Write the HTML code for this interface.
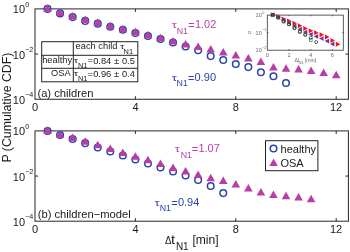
<!DOCTYPE html><html><head><meta charset="utf-8"><style>html,body{margin:0;padding:0;background:#fff;width:350px;height:252px;overflow:hidden}svg{display:block;will-change:transform}text{font-family:"Liberation Sans",sans-serif}</style></head><body>
<svg width="350" height="252" viewBox="0 0 350 252">
<rect x="0" y="0" width="350" height="252" fill="#fff"/>
<rect x="35.0" y="8.9" width="313.40" height="90.36" fill="none" stroke="#262626" stroke-width="1"/>
<line x1="135.40" y1="99.26" x2="135.40" y2="96.26" stroke="#262626" stroke-width="1"/>
<line x1="135.40" y1="8.9" x2="135.40" y2="11.9" stroke="#262626" stroke-width="1"/>
<line x1="235.80" y1="99.26" x2="235.80" y2="96.26" stroke="#262626" stroke-width="1"/>
<line x1="235.80" y1="8.9" x2="235.80" y2="11.9" stroke="#262626" stroke-width="1"/>
<line x1="336.20" y1="99.26" x2="336.20" y2="96.26" stroke="#262626" stroke-width="1"/>
<line x1="336.20" y1="8.9" x2="336.20" y2="11.9" stroke="#262626" stroke-width="1"/>
<line x1="35.0" y1="54.08" x2="38.0" y2="54.08" stroke="#262626" stroke-width="1"/>
<line x1="348.4" y1="54.08" x2="345.4" y2="54.08" stroke="#262626" stroke-width="1"/>
<rect x="35.0" y="130.9" width="313.40" height="90.30" fill="none" stroke="#262626" stroke-width="1"/>
<line x1="135.40" y1="221.2" x2="135.40" y2="218.2" stroke="#262626" stroke-width="1"/>
<line x1="135.40" y1="130.9" x2="135.40" y2="133.9" stroke="#262626" stroke-width="1"/>
<line x1="235.80" y1="221.2" x2="235.80" y2="218.2" stroke="#262626" stroke-width="1"/>
<line x1="235.80" y1="130.9" x2="235.80" y2="133.9" stroke="#262626" stroke-width="1"/>
<line x1="336.20" y1="221.2" x2="336.20" y2="218.2" stroke="#262626" stroke-width="1"/>
<line x1="336.20" y1="130.9" x2="336.20" y2="133.9" stroke="#262626" stroke-width="1"/>
<line x1="35.0" y1="176.05" x2="38.0" y2="176.05" stroke="#262626" stroke-width="1"/>
<line x1="348.4" y1="176.05" x2="345.4" y2="176.05" stroke="#262626" stroke-width="1"/>
<circle cx="47.55" cy="8.90" r="3.3" fill="none" stroke="#2a45aa" stroke-width="1.5"/>
<circle cx="60.10" cy="13.40" r="3.3" fill="none" stroke="#2a45aa" stroke-width="1.5"/>
<circle cx="72.65" cy="17.10" r="3.3" fill="none" stroke="#2a45aa" stroke-width="1.5"/>
<circle cx="85.20" cy="20.90" r="3.3" fill="none" stroke="#2a45aa" stroke-width="1.5"/>
<circle cx="97.75" cy="23.65" r="3.3" fill="none" stroke="#2a45aa" stroke-width="1.5"/>
<circle cx="110.30" cy="26.75" r="3.3" fill="none" stroke="#2a45aa" stroke-width="1.5"/>
<circle cx="122.85" cy="29.80" r="3.3" fill="none" stroke="#2a45aa" stroke-width="1.5"/>
<circle cx="135.40" cy="32.95" r="3.3" fill="none" stroke="#2a45aa" stroke-width="1.5"/>
<circle cx="147.95" cy="35.95" r="3.3" fill="none" stroke="#2a45aa" stroke-width="1.5"/>
<circle cx="160.50" cy="38.95" r="3.3" fill="none" stroke="#2a45aa" stroke-width="1.5"/>
<circle cx="173.05" cy="42.45" r="3.3" fill="none" stroke="#2a45aa" stroke-width="1.5"/>
<circle cx="185.60" cy="46.45" r="3.3" fill="none" stroke="#2a45aa" stroke-width="1.5"/>
<circle cx="198.15" cy="50.30" r="3.3" fill="none" stroke="#2a45aa" stroke-width="1.5"/>
<circle cx="210.70" cy="56.10" r="3.3" fill="none" stroke="#2a45aa" stroke-width="1.5"/>
<circle cx="223.25" cy="60.00" r="3.3" fill="none" stroke="#2a45aa" stroke-width="1.5"/>
<circle cx="235.80" cy="64.00" r="3.3" fill="none" stroke="#2a45aa" stroke-width="1.5"/>
<circle cx="248.35" cy="67.10" r="3.3" fill="none" stroke="#2a45aa" stroke-width="1.5"/>
<circle cx="260.90" cy="72.20" r="3.3" fill="none" stroke="#2a45aa" stroke-width="1.5"/>
<circle cx="273.45" cy="76.25" r="3.3" fill="none" stroke="#2a45aa" stroke-width="1.5"/>
<circle cx="286.00" cy="83.05" r="3.3" fill="none" stroke="#2a45aa" stroke-width="1.5"/>
<polygon points="47.55,4.20 43.25,11.70 51.85,11.70" fill="#b63ea4"/>
<polygon points="60.10,8.40 55.80,15.90 64.40,15.90" fill="#b63ea4"/>
<polygon points="72.65,12.00 68.35,19.50 76.95,19.50" fill="#b63ea4"/>
<polygon points="85.20,15.50 80.90,23.00 89.50,23.00" fill="#b63ea4"/>
<polygon points="97.75,18.50 93.45,26.00 102.05,26.00" fill="#b63ea4"/>
<polygon points="110.30,21.50 106.00,29.00 114.60,29.00" fill="#b63ea4"/>
<polygon points="122.85,24.80 118.55,32.30 127.15,32.30" fill="#b63ea4"/>
<polygon points="135.40,27.80 131.10,35.30 139.70,35.30" fill="#b63ea4"/>
<polygon points="147.95,30.80 143.65,38.30 152.25,38.30" fill="#b63ea4"/>
<polygon points="160.50,33.80 156.20,41.30 164.80,41.30" fill="#b63ea4"/>
<polygon points="173.05,37.00 168.75,44.50 177.35,44.50" fill="#b63ea4"/>
<polygon points="185.60,40.00 181.30,47.50 189.90,47.50" fill="#b63ea4"/>
<polygon points="198.15,42.50 193.85,50.00 202.45,50.00" fill="#b63ea4"/>
<polygon points="210.70,45.00 206.40,52.50 215.00,52.50" fill="#b63ea4"/>
<polygon points="223.25,48.00 218.95,55.50 227.55,55.50" fill="#b63ea4"/>
<polygon points="235.80,51.00 231.50,58.50 240.10,58.50" fill="#b63ea4"/>
<polygon points="248.35,54.00 244.05,61.50 252.65,61.50" fill="#b63ea4"/>
<polygon points="260.90,57.60 256.60,65.10 265.20,65.10" fill="#b63ea4"/>
<polygon points="273.45,63.00 269.15,70.50 277.75,70.50" fill="#b63ea4"/>
<polygon points="286.00,64.20 281.70,71.70 290.30,71.70" fill="#b63ea4"/>
<polygon points="298.55,65.00 294.25,72.50 302.85,72.50" fill="#b63ea4"/>
<polygon points="311.10,66.60 306.80,74.10 315.40,74.10" fill="#b63ea4"/>
<polygon points="323.65,68.50 319.35,76.00 327.95,76.00" fill="#b63ea4"/>
<polygon points="336.20,70.80 331.90,78.30 340.50,78.30" fill="#b63ea4"/>
<circle cx="47.55" cy="130.95" r="3.3" fill="none" stroke="#2a45aa" stroke-width="1.5"/>
<circle cx="60.10" cy="135.00" r="3.3" fill="none" stroke="#2a45aa" stroke-width="1.5"/>
<circle cx="72.65" cy="138.95" r="3.3" fill="none" stroke="#2a45aa" stroke-width="1.5"/>
<circle cx="85.20" cy="143.15" r="3.3" fill="none" stroke="#2a45aa" stroke-width="1.5"/>
<circle cx="97.75" cy="147.45" r="3.3" fill="none" stroke="#2a45aa" stroke-width="1.5"/>
<circle cx="110.30" cy="151.45" r="3.3" fill="none" stroke="#2a45aa" stroke-width="1.5"/>
<circle cx="122.85" cy="155.45" r="3.3" fill="none" stroke="#2a45aa" stroke-width="1.5"/>
<circle cx="135.40" cy="159.45" r="3.3" fill="none" stroke="#2a45aa" stroke-width="1.5"/>
<circle cx="147.95" cy="163.45" r="3.3" fill="none" stroke="#2a45aa" stroke-width="1.5"/>
<circle cx="160.50" cy="167.45" r="3.3" fill="none" stroke="#2a45aa" stroke-width="1.5"/>
<circle cx="173.05" cy="171.45" r="3.3" fill="none" stroke="#2a45aa" stroke-width="1.5"/>
<circle cx="185.60" cy="175.45" r="3.3" fill="none" stroke="#2a45aa" stroke-width="1.5"/>
<circle cx="198.15" cy="180.00" r="3.3" fill="none" stroke="#2a45aa" stroke-width="1.5"/>
<circle cx="210.70" cy="186.00" r="3.3" fill="none" stroke="#2a45aa" stroke-width="1.5"/>
<circle cx="223.25" cy="193.10" r="3.3" fill="none" stroke="#2a45aa" stroke-width="1.5"/>
<polygon points="47.55,126.20 43.25,133.70 51.85,133.70" fill="#b63ea4"/>
<polygon points="60.10,130.20 55.80,137.70 64.40,137.70" fill="#b63ea4"/>
<polygon points="72.65,133.50 68.35,141.00 76.95,141.00" fill="#b63ea4"/>
<polygon points="85.20,137.20 80.90,144.70 89.50,144.70" fill="#b63ea4"/>
<polygon points="97.75,140.80 93.45,148.30 102.05,148.30" fill="#b63ea4"/>
<polygon points="110.30,144.50 106.00,152.00 114.60,152.00" fill="#b63ea4"/>
<polygon points="122.85,148.50 118.55,156.00 127.15,156.00" fill="#b63ea4"/>
<polygon points="135.40,152.20 131.10,159.70 139.70,159.70" fill="#b63ea4"/>
<polygon points="147.95,155.80 143.65,163.30 152.25,163.30" fill="#b63ea4"/>
<polygon points="160.50,159.50 156.20,167.00 164.80,167.00" fill="#b63ea4"/>
<polygon points="173.05,163.50 168.75,171.00 177.35,171.00" fill="#b63ea4"/>
<polygon points="185.60,167.00 181.30,174.50 189.90,174.50" fill="#b63ea4"/>
<polygon points="198.15,170.50 193.85,178.00 202.45,178.00" fill="#b63ea4"/>
<polygon points="210.70,173.80 206.40,181.30 215.00,181.30" fill="#b63ea4"/>
<polygon points="223.25,176.60 218.95,184.10 227.55,184.10" fill="#b63ea4"/>
<polygon points="235.80,180.00 231.50,187.50 240.10,187.50" fill="#b63ea4"/>
<polygon points="248.35,184.00 244.05,191.50 252.65,191.50" fill="#b63ea4"/>
<polygon points="260.90,188.10 256.60,195.60 265.20,195.60" fill="#b63ea4"/>
<polygon points="273.45,190.50 269.15,198.00 277.75,198.00" fill="#b63ea4"/>
<polygon points="286.00,191.80 281.70,199.30 290.30,199.30" fill="#b63ea4"/>
<polygon points="298.55,193.00 294.25,200.50 302.85,200.50" fill="#b63ea4"/>
<polygon points="311.10,194.80 306.80,202.30 315.40,202.30" fill="#b63ea4"/>
<rect x="41.7" y="41.7" width="96.10" height="40.10" fill="#fff" stroke="#222" stroke-width="1"/>
<line x1="41.7" y1="55.3" x2="137.8" y2="55.3" stroke="#222" stroke-width="1"/>
<line x1="41.7" y1="68.3" x2="137.8" y2="68.3" stroke="#222" stroke-width="1"/>
<line x1="73.3" y1="41.7" x2="73.3" y2="81.8" stroke="#222" stroke-width="1"/>
<rect x="265.5" y="140.7" width="52.4" height="30" fill="#fff" stroke="#222" stroke-width="1"/>
<circle cx="273.50" cy="148.50" r="3.3" fill="none" stroke="#2a45aa" stroke-width="1.5"/>
<polygon points="273.60,158.40 269.30,165.90 277.90,165.90" fill="#b63ea4"/>
<rect x="267.3" y="15.1" width="76.00" height="35.10" fill="#fff" stroke="#333" stroke-width="0.8"/>
<line x1="289.01" y1="50.2" x2="289.01" y2="49.0" stroke="#333" stroke-width="0.7"/>
<line x1="289.01" y1="15.1" x2="289.01" y2="16.3" stroke="#333" stroke-width="0.7"/>
<line x1="310.73" y1="50.2" x2="310.73" y2="49.0" stroke="#333" stroke-width="0.7"/>
<line x1="310.73" y1="15.1" x2="310.73" y2="16.3" stroke="#333" stroke-width="0.7"/>
<line x1="332.44" y1="50.2" x2="332.44" y2="49.0" stroke="#333" stroke-width="0.7"/>
<line x1="332.44" y1="15.1" x2="332.44" y2="16.3" stroke="#333" stroke-width="0.7"/>
<line x1="267.3" y1="32.65" x2="268.5" y2="32.65" stroke="#333" stroke-width="0.7"/>
<line x1="343.3" y1="32.65" x2="342.1" y2="32.65" stroke="#333" stroke-width="0.7"/>
<polygon points="275.23,14.80 270.73,12.30 270.73,17.30" fill="#f5141e"/>
<polygon points="280.66,16.60 276.16,14.10 276.16,19.10" fill="#f5141e"/>
<polygon points="286.09,18.90 281.59,16.40 281.59,21.40" fill="#f5141e"/>
<polygon points="291.51,21.00 287.01,18.50 287.01,23.50" fill="#f5141e"/>
<polygon points="296.94,23.20 292.44,20.70 292.44,25.70" fill="#f5141e"/>
<polygon points="302.37,25.80 297.87,23.30 297.87,28.30" fill="#f5141e"/>
<polygon points="307.80,28.40 303.30,25.90 303.30,30.90" fill="#f5141e"/>
<polygon points="313.23,30.70 308.73,28.20 308.73,33.20" fill="#f5141e"/>
<polygon points="318.66,32.70 314.16,30.20 314.16,35.20" fill="#f5141e"/>
<polygon points="324.09,34.80 319.59,32.30 319.59,37.30" fill="#f5141e"/>
<polygon points="329.51,37.10 325.01,34.60 325.01,39.60" fill="#f5141e"/>
<polygon points="334.94,40.60 330.44,38.10 330.44,43.10" fill="#f5141e"/>
<polygon points="340.37,44.30 335.87,41.80 335.87,46.80" fill="#f5141e"/>
<polygon points="270.33,14.80 274.73,12.40 274.73,17.20" fill="#7b2f9e"/>
<polygon points="275.76,17.30 280.16,14.90 280.16,19.70" fill="#7b2f9e"/>
<polygon points="281.19,20.10 285.59,17.70 285.59,22.50" fill="#7b2f9e"/>
<polygon points="286.61,23.00 291.01,20.60 291.01,25.40" fill="#7b2f9e"/>
<polygon points="292.04,26.00 296.44,23.60 296.44,28.40" fill="#7b2f9e"/>
<polygon points="297.47,29.20 301.87,26.80 301.87,31.60" fill="#7b2f9e"/>
<polygon points="302.90,32.10 307.30,29.70 307.30,34.50" fill="#7b2f9e"/>
<polygon points="308.33,34.30 312.73,31.90 312.73,36.70" fill="#7b2f9e"/>
<polygon points="313.76,36.40 318.16,34.00 318.16,38.80" fill="#7b2f9e"/>
<polygon points="319.19,38.60 323.59,36.20 323.59,41.00" fill="#7b2f9e"/>
<polygon points="324.61,41.10 329.01,38.70 329.01,43.50" fill="#7b2f9e"/>
<polygon points="330.04,44.00 334.44,41.60 334.44,46.40" fill="#7b2f9e"/>
<rect x="271.33" y="13.40" width="2.8" height="2.8" fill="none" stroke="#1f8a45" stroke-width="0.7"/>
<rect x="276.76" y="16.00" width="2.8" height="2.8" fill="none" stroke="#1f8a45" stroke-width="0.7"/>
<rect x="282.19" y="20.20" width="2.8" height="2.8" fill="none" stroke="#1f8a45" stroke-width="0.7"/>
<rect x="287.61" y="22.60" width="2.8" height="2.8" fill="none" stroke="#1f8a45" stroke-width="0.7"/>
<rect x="293.04" y="26.40" width="2.8" height="2.8" fill="none" stroke="#1f8a45" stroke-width="0.7"/>
<rect x="298.47" y="30.10" width="2.8" height="2.8" fill="none" stroke="#1f8a45" stroke-width="0.7"/>
<rect x="303.90" y="33.10" width="2.8" height="2.8" fill="none" stroke="#1f8a45" stroke-width="0.7"/>
<rect x="309.33" y="38.60" width="2.8" height="2.8" fill="none" stroke="#1f8a45" stroke-width="0.7"/>
<circle cx="272.73" cy="14.80" r="1.5" fill="none" stroke="#222" stroke-width="0.7"/>
<circle cx="278.16" cy="17.60" r="1.5" fill="none" stroke="#222" stroke-width="0.7"/>
<circle cx="283.59" cy="21.30" r="1.5" fill="none" stroke="#222" stroke-width="0.7"/>
<circle cx="289.01" cy="24.30" r="1.5" fill="none" stroke="#222" stroke-width="0.7"/>
<circle cx="294.44" cy="28.20" r="1.5" fill="none" stroke="#222" stroke-width="0.7"/>
<circle cx="299.87" cy="31.90" r="1.5" fill="none" stroke="#222" stroke-width="0.7"/>
<circle cx="305.30" cy="34.80" r="1.5" fill="none" stroke="#222" stroke-width="0.7"/>
<circle cx="310.73" cy="37.80" r="1.5" fill="none" stroke="#222" stroke-width="0.7"/>
<circle cx="316.16" cy="42.10" r="1.5" fill="none" stroke="#222" stroke-width="0.7"/>
<g>
<text x="12.86" y="13.35" font-size="11" fill="#1a1a1a">10</text>
<text x="25.22" y="6.60" font-size="7.2" fill="#1a1a1a">0</text>
<text x="12.86" y="58.53" font-size="11" fill="#1a1a1a">10</text>
<text x="25.14" y="51.78" font-size="7.2" fill="#1a1a1a">−2</text>
<text x="12.86" y="103.71" font-size="11" fill="#1a1a1a">10</text>
<text x="25.14" y="96.96" font-size="7.2" fill="#1a1a1a">−4</text>
<text x="31.94" y="110.96" font-size="11" fill="#1a1a1a">0</text>
<text x="132.38" y="110.96" font-size="11" fill="#1a1a1a">4</text>
<text x="232.74" y="110.96" font-size="11" fill="#1a1a1a">8</text>
<text x="329.94" y="110.96" font-size="11" fill="#1a1a1a">12</text>
<text x="12.86" y="135.35" font-size="11" fill="#1a1a1a">10</text>
<text x="25.22" y="128.60" font-size="7.2" fill="#1a1a1a">0</text>
<text x="12.86" y="180.50" font-size="11" fill="#1a1a1a">10</text>
<text x="25.14" y="173.75" font-size="7.2" fill="#1a1a1a">−2</text>
<text x="12.86" y="225.65" font-size="11" fill="#1a1a1a">10</text>
<text x="25.14" y="218.90" font-size="7.2" fill="#1a1a1a">−4</text>
<text x="31.94" y="232.90" font-size="11" fill="#1a1a1a">0</text>
<text x="132.38" y="232.90" font-size="11" fill="#1a1a1a">4</text>
<text x="232.74" y="232.90" font-size="11" fill="#1a1a1a">8</text>
<text x="329.94" y="232.90" font-size="11" fill="#1a1a1a">12</text>
<text transform="translate(171.70,27.90) scale(1.2,0.85)" font-size="11" fill="#b63ea4">τ</text>
<text x="176.78" y="33.50" font-size="8.8" fill="#b63ea4">N1</text>
<text x="188.25" y="28.90" font-size="11" fill="#b63ea4">=</text>
<text x="194.90" y="27.90" font-size="11" fill="#b63ea4">1.02</text>
<text transform="translate(171.80,80.50) scale(1.2,0.85)" font-size="11" fill="#2a45aa">τ</text>
<text x="176.58" y="86.10" font-size="8.8" fill="#2a45aa">N1</text>
<text x="187.95" y="81.50" font-size="11" fill="#2a45aa">=</text>
<text x="194.60" y="80.50" font-size="11" fill="#2a45aa">0.90</text>
<text transform="translate(174.80,152.40) scale(1.2,0.85)" font-size="11" fill="#b63ea4">τ</text>
<text x="180.68" y="158.00" font-size="8.8" fill="#b63ea4">N1</text>
<text x="191.75" y="153.40" font-size="11" fill="#b63ea4">=</text>
<text x="198.40" y="152.40" font-size="11" fill="#b63ea4">1.07</text>
<text transform="translate(154.50,205.80) scale(1.2,0.85)" font-size="11" fill="#2a45aa">τ</text>
<text x="159.68" y="211.40" font-size="8.8" fill="#2a45aa">N1</text>
<text x="171.25" y="206.80" font-size="11" fill="#2a45aa">=</text>
<text x="177.90" y="205.80" font-size="11" fill="#2a45aa">0.94</text>
<text x="37.41" y="96.90" font-size="11.2" fill="#1a1a1a">(a) children</text>
<text x="37.71" y="217.90" font-size="11.2" fill="#1a1a1a">(b) children−model</text>
<text x="75.60" y="49.40" font-size="9.3" fill="#1a1a1a">each child</text>
<text transform="translate(119.9,49.4) scale(1.2,0.85)" font-size="9.3" fill="#1a1a1a">τ</text>
<text x="123.59" y="54.00" font-size="7.4" fill="#1a1a1a">N1</text>
<text x="42.16" y="62.60" font-size="9.3" fill="#1a1a1a">healthy</text>
<text x="50.98" y="76.20" font-size="9.3" fill="#1a1a1a">OSA</text>
<text transform="translate(73.8,63.10) scale(1.2,0.85)" font-size="9.3" fill="#1a1a1a">τ</text>
<text x="77.89" y="67.70" font-size="7.4" fill="#1a1a1a">N1</text>
<text x="87.55" y="63.40" font-size="9.3" fill="#1a1a1a">=</text>
<text x="93.14" y="63.70" font-size="9.3" fill="#1a1a1a">0.84</text>
<text x="114.10" y="63.70" font-size="9.3" fill="#1a1a1a">±</text>
<text x="121.94" y="63.70" font-size="9.3" fill="#1a1a1a">0.5</text>
<text transform="translate(73.8,76.30) scale(1.2,0.85)" font-size="9.3" fill="#1a1a1a">τ</text>
<text x="77.89" y="80.90" font-size="7.4" fill="#1a1a1a">N1</text>
<text x="87.55" y="76.60" font-size="9.3" fill="#1a1a1a">=</text>
<text x="93.14" y="76.90" font-size="9.3" fill="#1a1a1a">0.96</text>
<text x="114.10" y="76.90" font-size="9.3" fill="#1a1a1a">±</text>
<text x="121.94" y="76.90" font-size="9.3" fill="#1a1a1a">0.4</text>
<text x="280.54" y="153.10" font-size="11" fill="#1a1a1a">healthy</text>
<text x="280.48" y="167.30" font-size="11" fill="#1a1a1a">OSA</text>
<text transform="translate(11.0,162.61) rotate(-90)" font-size="12.32" fill="#1a1a1a">P (Cumulative CDF)</text>
<text transform="translate(164.9,243.7) scale(0.8,0.95)" font-size="12.2" fill="#1a1a1a">Δ</text>
<text transform="translate(170.9,243.7) scale(1.2,1)" font-size="12.2" fill="#1a1a1a">t</text>
<text x="175.88" y="249.50" font-size="10" fill="#1a1a1a">N1</text>
<text x="192.44" y="243.90" font-size="12.1" fill="#1a1a1a">[min]</text>
<text x="265.74" y="56.50" font-size="5.6" fill="#6a6a6a">0</text>
<text x="287.46" y="56.50" font-size="5.6" fill="#6a6a6a">2</text>
<text x="309.19" y="56.50" font-size="5.6" fill="#6a6a6a">4</text>
<text x="330.87" y="56.50" font-size="5.6" fill="#6a6a6a">6</text>
<text x="255.57" y="17.10" font-size="5.6" fill="#6a6a6a">10</text>
<text x="262.15" y="13.80" font-size="3.8" fill="#6a6a6a">0</text>
<text x="255.57" y="34.65" font-size="5.6" fill="#6a6a6a">10</text>
<text x="262.11" y="31.35" font-size="3.8" fill="#6a6a6a">−1</text>
<text x="255.57" y="52.20" font-size="5.6" fill="#6a6a6a">10</text>
<text x="262.11" y="48.90" font-size="3.8" fill="#6a6a6a">−2</text>
<text x="294.55" y="62.30" font-size="5.2" fill="#6a6a6a">Δt</text>
<text x="298.46" y="64.30" font-size="4.2" fill="#6a6a6a">N1</text>
<text x="304.83" y="62.30" font-size="5.2" fill="#6a6a6a">[min]</text>
<text transform="translate(251.9,34.2) rotate(-90)" font-size="5" fill="#6a6a6a">P</text>
</g>
</svg></body></html>
